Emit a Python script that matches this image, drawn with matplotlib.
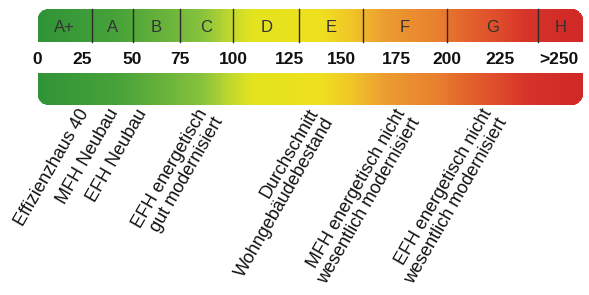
import numpy as np
import matplotlib
matplotlib.use("Agg")
import matplotlib.pyplot as plt
from matplotlib.colors import LinearSegmentedColormap
from matplotlib.path import Path

# ---------------- data ----------------
classes = ["A+", "A", "B", "C", "D", "E", "F", "G", "H"]
class_edges = [0, 30, 50, 75, 100, 130, 160, 200, 250, 272]
tick_values = [0, 25, 50, 75, 100, 125, 150, 175, 200, 225, 260]
tick_labels = ["0", "25", "50", "75", "100", "125", "150", "175", "200", "225", ">250"]
building_labels = [
    "Effizienzhaus 40",
    "MFH Neubau",
    "EFH Neubau",
    "EFH energetisch\ngut modernisiert",
    "Durchschnitt\nWohngebäudebestand",
    "MFH energetisch nicht\nwesentlich modernisiert",
    "EFH energetisch nicht\nwesentlich modernisiert",
]
building_values = [22.5, 37.5, 51.5, 83, 134, 174, 216]

# gradient colour stops (value -> colour)
grad_values = [0, 40, 70, 85, 97, 108, 140, 155, 170, 195, 215, 240, 272]
grad_colors = ["#2f9337", "#45a139", "#6db53c", "#86c23c", "#b9d530", "#e2e31e",
               "#f0e01e", "#f0c428", "#ec9c30", "#e8802e", "#e25a2c", "#d8352a", "#d02826"]

# ---------------- layout (hand-drawn, non-linear value scale) ----------------
W, H = 589, 295
scale_vals = [-18.5, 0, 25, 50, 75, 100, 125, 150, 175, 200, 225, 250, 272, 275.5]
scale_px = [0, 37.5, 82, 132.5, 179.5, 233, 289, 341, 396.5, 446.5, 500, 538, 583, 589]


def fwd(v):
    return np.interp(v, scale_vals, scale_px)


def inv(p):
    return np.interp(p, scale_px, scale_vals)


plt.rcParams["font.family"] = ["Liberation Sans", "DejaVu Sans"]
fig = plt.figure(figsize=(W / 100, H / 100), dpi=100)
ax = fig.add_axes([0, 0, 1, 1])
ax.set_xscale("function", functions=(fwd, inv))
ax.set_xlim(scale_vals[0], scale_vals[-1])
ax.set_ylim(H, 0)
ax.axis("off")

vmin, vmax = class_edges[0], class_edges[-1]
cmap = LinearSegmentedColormap.from_list(
    "energy", [((v - vmin) / (vmax - vmin), c) for v, c in zip(grad_values, grad_colors)])


def rounded_bar_path(y0, y1, r, top=True):
    x0, x1 = fwd(vmin), fwd(vmax)
    t = np.linspace(0, np.pi / 2, 20)
    pts = []
    if top:
        pts.append((x0, y1))
        for a in t:
            pts.append((x0 + r - r * np.cos(a), y0 + r - r * np.sin(a)))
        for a in t:
            pts.append((x1 - r + r * np.sin(a), y0 + r - r * np.cos(a)))
        pts.append((x1, y1))
    else:
        pts.append((x0, y0))
        for a in t:
            pts.append((x0 + r - r * np.cos(a), y1 - r + r * np.sin(a)))
        for a in t:
            pts.append((x1 - r + r * np.sin(a), y1 - r + r * np.cos(a)))
        pts.append((x1, y0))
    pts.append(pts[0])
    pts = np.array(pts)
    pts[:, 0] = inv(pts[:, 0])
    return Path(pts, closed=True)


def gradient_bar(y0, y1, top):
    xe = np.linspace(vmin, vmax, 500)
    xc = 0.5 * (xe[:-1] + xe[1:])
    mesh = ax.pcolormesh(xe, [y0, y1], xc[None, :], cmap=cmap, vmin=vmin, vmax=vmax,
                         shading="flat", linewidth=0)
    mesh.set_clip_path(rounded_bar_path(y0, y1, 11, top=top), ax.transData)


# top bar with classes
gradient_bar(9, 42, True)
for e in class_edges[1:-1]:
    ax.plot([e, e], [9, 42], color="#2a2a2a", lw=1.0)
for i, c in enumerate(classes):
    mid = inv(0.5 * (fwd(class_edges[i]) + fwd(class_edges[i + 1])))
    ax.text(mid, 27, c, ha="center", va="center", fontsize=12, color="#333333")

# tick labels
for v, lab in zip(tick_values, tick_labels):
    ax.text(v, 59, lab, ha="center", va="center", fontsize=12.5, fontweight="bold",
            color="#111111")

# bottom bar
gradient_bar(73, 105, False)

# building labels
for v, lab in zip(building_values, building_labels):
    ax.text(v, 106, lab, rotation=60, rotation_mode="anchor", ha="right", va="top",
            fontsize=13, color="#111111", linespacing=1.05, multialignment="right")

fig.savefig("out.png", dpi=100, facecolor="white")
